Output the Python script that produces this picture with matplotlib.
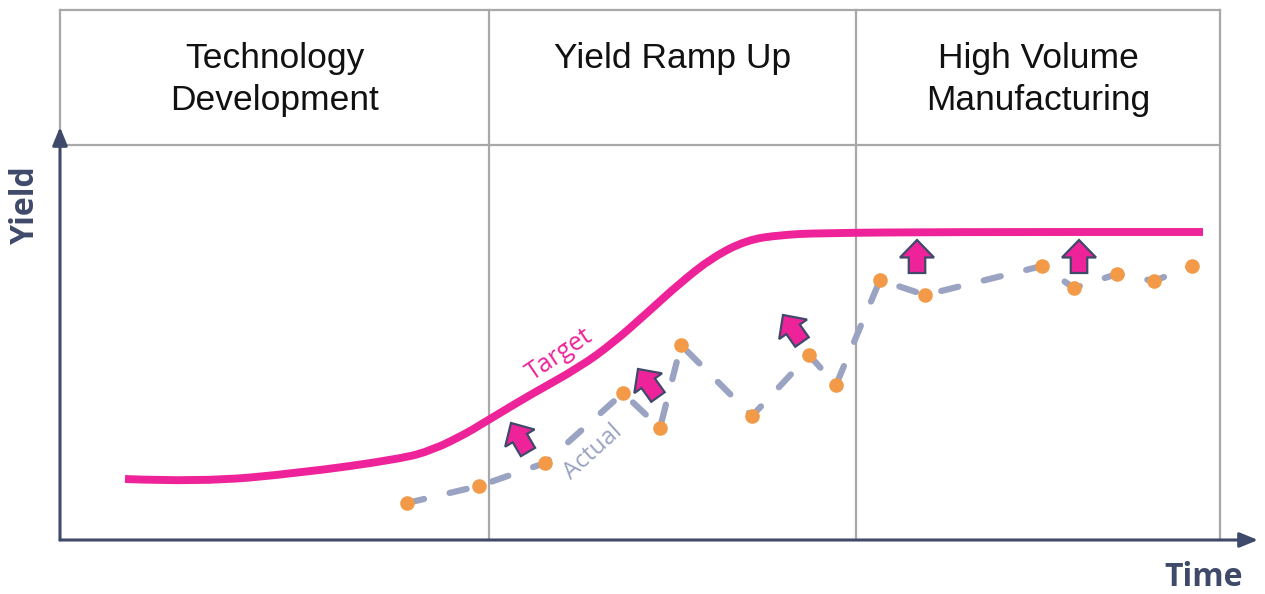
import matplotlib
matplotlib.use("Agg")
import matplotlib.pyplot as plt
from matplotlib.patches import FancyArrow, PathPatch
from matplotlib.path import Path

plt.rcParams['font.family'] = ['Open Sans', 'DejaVu Sans']

# ---- data (time units / yield units, 1 unit ~ 10 px) ----
phases = ["Technology\nDevelopment", "Yield Ramp Up", "High Volume\nManufacturing"]
phase_bounds = [0.0, 42.9, 79.6, 116.0]

target_t = [6.5, 14.0, 24.0, 34.0, 37.3, 40.7, 42.0, 44.0, 47.0, 52.0, 55.3, 58.7, 62.0,
            65.3, 68.7, 72.0, 76.0, 89.0, 114.3]
target_y = [6.1, 5.8, 6.7, 8.1, 9.0, 10.7, 11.5, 12.7, 14.5, 17.3, 19.7, 22.7, 25.7,
            28.3, 30.0, 30.5, 30.7, 30.8, 30.8]

actual_t = [34.7, 41.9, 48.5, 56.3, 60.0, 62.1, 69.2, 74.9, 77.6, 82.0, 86.5, 98.2, 101.4, 105.7, 109.4, 113.2]
actual_y = [3.7, 5.4, 7.7, 14.7, 11.2, 19.5, 12.4, 18.5, 15.5, 26.0, 24.5, 27.4, 25.2, 26.6, 25.9, 27.4]

# improvement arrows: tail (t, y) and direction (dt, dy)
arrow_t = [46.8, 59.8, 74.2, 85.7, 101.9]
arrow_y = [8.8, 14.3, 19.8, 26.7, 26.7]
arrow_dt = [-1.7, -2.0, -1.9, 0.0, 0.0]
arrow_dy = [2.9, 2.8, 2.7, 3.3, 3.3]

pink = "#EE2399"
navy = "#3F4A6B"
grid_gray = "#A8A8A8"
actual_c = "#9AA3C2"
orange = "#F29A48"

fig = plt.figure(figsize=(12.65, 5.94), dpi=100)
ax = fig.add_axes([60/1265, 54/594, 1160/1265, 530/594])
ax.set_xlim(0, 116)
ax.set_ylim(0, 53)
ax.axis('off')

header_y = 39.5
# box / grid
ax.plot([0, 116], [53, 53], color=grid_gray, lw=1.6, clip_on=False)
ax.plot([0, 116], [header_y, header_y], color=grid_gray, lw=1.6, clip_on=False)
ax.plot([116, 116], [0, 53], color=grid_gray, lw=1.6, clip_on=False)
ax.plot([0, 0], [header_y, 53], color=grid_gray, lw=1.6, clip_on=False)
for xb in phase_bounds[1:-1]:
    ax.plot([xb, xb], [0, 53], color=grid_gray, lw=1.6, clip_on=False)

for i, name in enumerate(phases):
    xc = (phase_bounds[i] + phase_bounds[i+1]) / 2
    ax.text(xc, 49.8, name, ha='center', va='top', fontsize=25.5, color='#111111',
            linespacing=1.35, family=['Liberation Sans', 'DejaVu Sans'])

# axes arrows
ax.annotate("", xy=(0, 41.3), xytext=(0, 0),
            arrowprops=dict(arrowstyle="-|>,head_length=1.1,head_width=0.45", color=navy, lw=2.2,
                            shrinkA=0, shrinkB=0), annotation_clip=False)
ax.annotate("", xy=(119.8, 0), xytext=(0, 0),
            arrowprops=dict(arrowstyle="-|>,head_length=1.1,head_width=0.45", color=navy, lw=2.2,
                            shrinkA=0, shrinkB=0), annotation_clip=False)
ax.text(-3.5, 33.5, "Yield", rotation=90, ha='center', va='center', fontsize=23,
        fontweight='bold', color=navy)
ax.text(114.4, -3.7, "Time", ha='center', va='center', fontsize=23,
        fontweight='bold', color=navy)

# target: smooth quadratic path using the read points as control points
verts = [(target_t[0], target_y[0])]
codes = [Path.MOVETO]
for i in range(1, len(target_t) - 1):
    mid = ((target_t[i] + target_t[i+1]) / 2, (target_y[i] + target_y[i+1]) / 2)
    verts += [(target_t[i], target_y[i]), mid]
    codes += [Path.CURVE3, Path.CURVE3]
verts.append((target_t[-1], target_y[-1]))
codes.append(Path.LINETO)
ax.add_patch(PathPatch(Path(verts, codes), fc='none', ec=pink, lw=5.7,
                       capstyle='butt', joinstyle='round', zorder=3))
ax.text(50.0, 18.5, "Target", rotation=34, ha='center', va='center', fontsize=18, color=pink)

# actual
ax.plot(actual_t, actual_y, color=actual_c, lw=4.5, dashes=(2.8, 4.2),
        dash_capstyle='round', zorder=3)
ax.plot(actual_t, actual_y, 'o', color=orange, ms=10.5, mec='none', zorder=4)
ax.text(53.3, 8.8, "Actual", rotation=42, ha='center', va='center', fontsize=17.5, color=actual_c)

# arrows
for t, y, dt, dy in zip(arrow_t, arrow_y, arrow_dt, arrow_dy):
    ax.add_patch(FancyArrow(t, y, dt, dy, width=1.65, head_width=3.4, head_length=1.75,
                            length_includes_head=True, fc=pink, ec=navy, lw=1.6,
                            joinstyle='miter', zorder=5))

fig.savefig("out.png", dpi=100)
